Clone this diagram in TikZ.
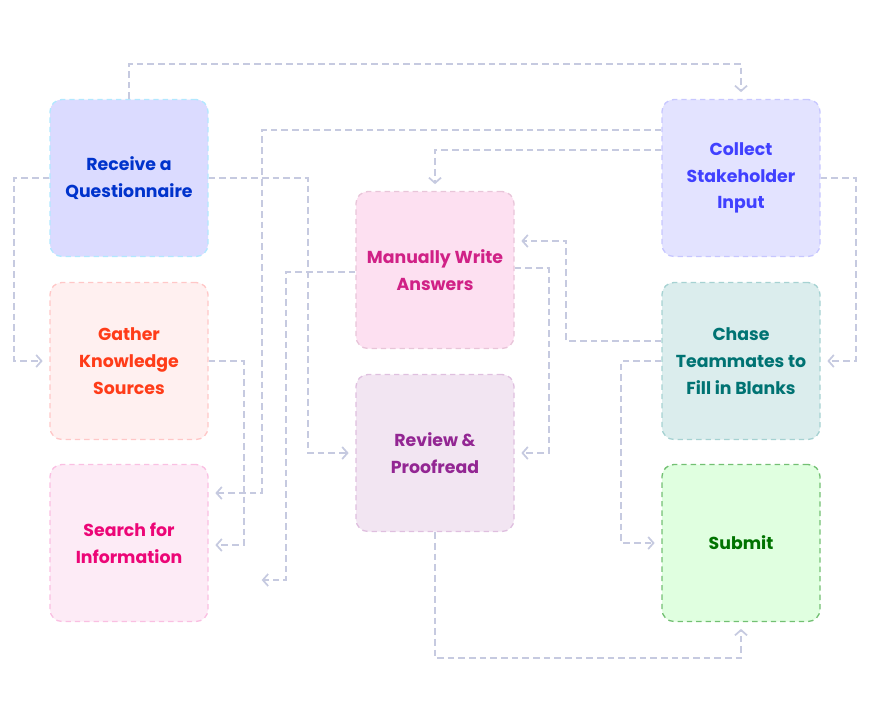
\documentclass[tikz,border=0pt]{standalone}
\usepackage{fontspec}
\setmainfont{Poppins}
\usetikzlibrary{arrows.meta,calc}
\definecolor{linkc}{HTML}{C6CAE0}
\begin{document}
\begin{tikzpicture}[
  x=0.75pt, y=-0.75pt,
  stage/.style={rectangle, rounded corners=9pt, line width=1pt, dash pattern=on 4pt off 3pt,
    minimum width=118.5pt, minimum height=117.75pt, align=center,
    font=\fontsize{13}{20}\selectfont\bfseries},
  link/.style={linkc, line width=1.3pt, dash pattern=on 5pt off 3pt,
    -{Straight Barb[length=4pt,width=9pt]}, shorten >=5pt}
]
\useasboundingbox (0,0) rectangle (870,700);

% stages
\node[stage, fill=blue!14!white, draw=blue!30!cyan!30, text=blue!75!cyan!80!black] (receive) at (129,178) {Receive a\\Questionnaire};
\node[stage, fill=red!6, draw=red!22, text=red!70!orange!90] (gather) at (129,361) {Gather\\Knowledge\\Sources};
\node[stage, fill=magenta!8, draw=magenta!25, text=magenta!80!red] (search) at (129,543) {Search for\\Information};
\node[stage, fill=magenta!12, draw=magenta!25!violet!25, text=magenta!70!violet] (manual) at (435,270) {Manually Write\\Answers};
\node[stage, fill=violet!10, draw=violet!25, text=violet!85] (review) at (435,453) {Review \&\\Proofread};
\node[stage, fill=blue!11, draw=blue!22, text=blue!75] (collect) at (741,178) {Collect\\Stakeholder\\Input};
\node[stage, fill=teal!14, draw=teal!35, text=teal!90!black] (chase) at (741,361) {Chase\\Teammates to\\Fill in Blanks};
\node[stage, fill=green!12, draw=green!55!black!55, text=green!45!black] (submit) at (741,543) {Submit};

\coordinate (loose) at (255,580);

% connectors
\draw[link] (receive.north) -- ++(0,-35) -| (collect.north);
\draw[link] (receive.west) -- ++(-35,0) |- (gather.west);
\draw[link] (receive.east) -- ++(99,0) |- (review.west);
\draw[link] ($(collect.west)+(0,-48)$) -- ++(-399,0) |- ($(search.east)+(0,-50)$);
\draw[link] ($(collect.west)+(0,-28)$) -| (manual.north);
\draw[link] (collect.east) -- ++(35,0) |- (chase.east);
\draw[link] (gather.east) -- ++(35,0) |- ($(search.east)+(0,2)$);
\draw[link] ($(manual.west)+(0,2)$) -- ++(-69,0) |- (loose);
\draw[link] ($(manual.east)+(0,-2)$) -- ++(34,0) |- (review.east);
\draw[link] ($(chase.west)+(0,-20)$) -- ++(-95,0) |- ($(manual.east)+(0,-29)$);
\draw[link] (chase.west) -- ++(-40,0) |- (submit.west);
\draw[link] (review.south) -- ++(0,126) -| (submit.south);
\end{tikzpicture}
\end{document}
